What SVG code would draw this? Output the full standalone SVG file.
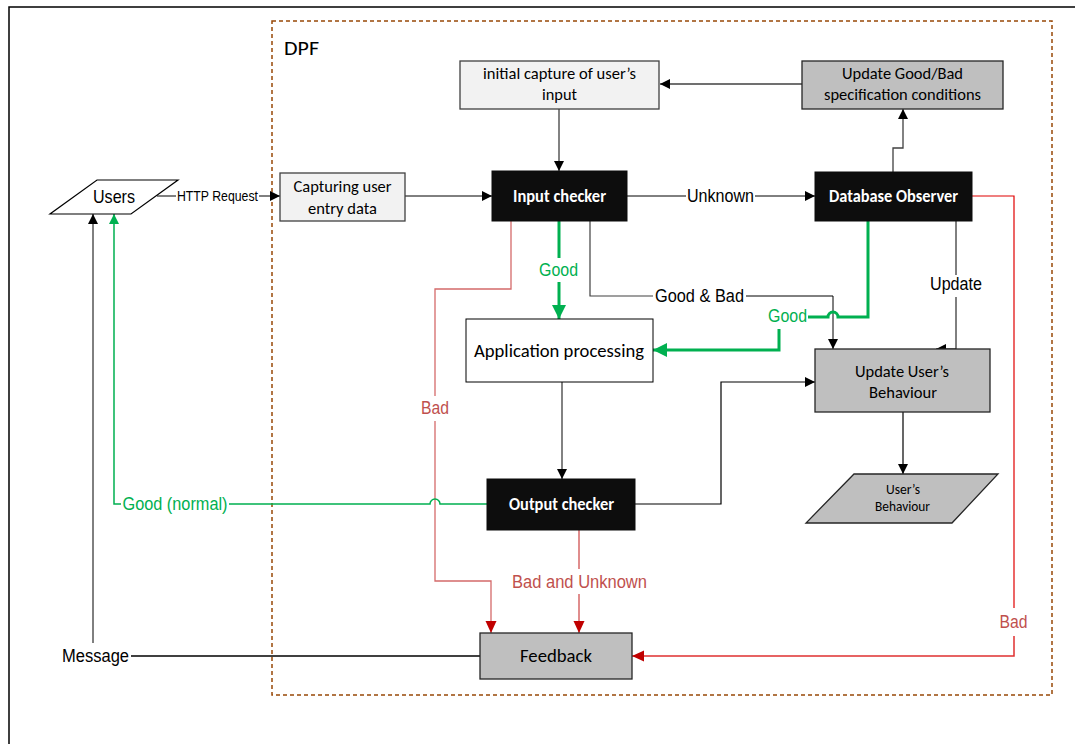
<svg xmlns="http://www.w3.org/2000/svg" width="1075" height="744" viewBox="0 0 1075 744">
<style>
.bx{font-family:Carlito,Lato,"Liberation Sans",sans-serif;font-size:17px;fill:#000;text-anchor:middle}
.wb{fill:#fff;font-weight:bold}
.lb{font-family:"Liberation Sans Narrow","Liberation Sans",Arial,sans-serif;font-size:17.5px;text-anchor:middle;fill:#000}
.gn{fill:#00b050}
.rd{fill:#c0504d}
.light{fill:#f2f2f2;stroke:#404040;stroke-width:1.3}
.grey{fill:#bfbfbf;stroke:#262626;stroke-width:1.3}
.dark{fill:#0d0d0d;stroke:#0d0d0d;stroke-width:1}
.c{fill:none}
</style>
<defs>
<marker id="ab" markerUnits="userSpaceOnUse" markerWidth="12" markerHeight="12" refX="10" refY="5" orient="auto"><path d="M0,0 L10,5 L0,10 z" fill="#000"/></marker>
<marker id="ag" markerUnits="userSpaceOnUse" markerWidth="16" markerHeight="16" refX="14" refY="7" orient="auto"><path d="M0,0 L14,7 L0,14 z" fill="#00b050"/></marker>
<marker id="agt" markerUnits="userSpaceOnUse" markerWidth="12" markerHeight="12" refX="10" refY="5" orient="auto"><path d="M0,0 L10,5 L0,10 z" fill="#00b050"/></marker>
<marker id="ar" markerUnits="userSpaceOnUse" markerWidth="14" markerHeight="14" refX="12" refY="5.5" orient="auto"><path d="M0,0 L12,5.5 L0,11 z" fill="#c00000"/></marker>
</defs>
<rect x="0" y="0" width="1075" height="744" fill="#fff"/>
<rect x="9" y="7" width="1100" height="800" fill="none" stroke="#000" stroke-width="1.5"/>
<g id="dpf">
<rect x="272" y="21" width="780" height="674" fill="none" stroke="#984807" stroke-width="1.5" stroke-dasharray="4,3"/>
<text x="284" y="55" class="bx" style="text-anchor:start;font-size:21px" textLength="35" lengthAdjust="spacingAndGlyphs">DPF</text>
</g>
<g id="connectors" class="c">
<path d="M157,196 H176" stroke="#000"/>
<path d="M259,196 H280" stroke="#000" marker-end="url(#ab)"/>
<path d="M405,196 H492" stroke="#000" marker-end="url(#ab)"/>
<path d="M627,196 H686" stroke="#000"/>
<path d="M755,196 H815" stroke="#000" marker-end="url(#ab)"/>
<path d="M559,109 V171" stroke="#595959" stroke-width="1.5" marker-end="url(#ab)"/>
<path d="M802,84 H660" stroke="#404040" stroke-width="1.3" marker-end="url(#ab)"/>
<path d="M893,172 V148 H903 V109" stroke="#404040" stroke-width="1.3" marker-end="url(#ab)"/>
<path d="M559,221 V258" stroke="#00b050" stroke-width="3"/>
<path d="M559,282 V319" stroke="#00b050" stroke-width="3" marker-end="url(#ag)"/>
<path d="M511,210 V289 H435 V396" stroke="#d46a6a" stroke-width="1.3"/>
<path d="M435,421 V581 H491 V633" stroke="#d46a6a" stroke-width="1.3" marker-end="url(#ar)"/>
<path d="M590,210 V296 H653" stroke="#404040" stroke-width="1.2"/>
<path d="M746,296 H833 V349" stroke="#000" stroke-width="1" marker-end="url(#ab)"/>
<path d="M868,221 V317 H838 a5,5 0 0 0 -10,0 H808" stroke="#00b050" stroke-width="3"/>
<path d="M779,329 V350 H653" stroke="#00b050" stroke-width="3" marker-end="url(#ag)"/>
<path d="M956,221 V275" stroke="#000"/>
<path d="M956,297 V349 H936" stroke="#000" marker-end="url(#ab)"/>
<path d="M548,369 H562 V479" stroke="#595959" stroke-width="1.5" marker-end="url(#ab)"/>
<path d="M635,504 H721 V382 H815" stroke="#000" stroke-width="1.2" marker-end="url(#ab)"/>
<path d="M903,412 V474" stroke="#000" stroke-width="1.2" marker-end="url(#ab)"/>
<path d="M579,530 V569" stroke="#d05050" stroke-width="1.3"/>
<path d="M579,594 V633" stroke="#d05050" stroke-width="1.3" marker-end="url(#ar)"/>
<path d="M972,196 H1014 V608" stroke="#e00000" stroke-width="1.2"/>
<path d="M1014,636 V656 H632" stroke="#e03030" stroke-width="1.5" marker-end="url(#ar)"/>
<path d="M480,656 H131" stroke="#404040" stroke-width="2"/>
<path d="M93,643 V214" stroke="#000" marker-end="url(#ab)"/>
<path d="M487,504 H440 a5,5 0 0 0 -10,0 H229" stroke="#00b050" stroke-width="1.5"/>
<path d="M121,504 H114 V214" stroke="#00b050" stroke-width="1.5" marker-end="url(#agt)"/>
</g>
<g id="labels">
<text x="217.5" y="201" class="lb" style="font-size:14px" textLength="81" lengthAdjust="spacingAndGlyphs">HTTP Request</text>
<text x="720.5" y="202" class="lb" textLength="67" lengthAdjust="spacingAndGlyphs">Unknown</text>
<text x="558.5" y="276" class="lb gn" textLength="39" lengthAdjust="spacingAndGlyphs">Good</text>
<text x="699.5" y="302" class="lb" textLength="89" lengthAdjust="spacingAndGlyphs">Good &amp; Bad</text>
<text x="787.5" y="322" class="lb gn" textLength="39" lengthAdjust="spacingAndGlyphs">Good</text>
<text x="956" y="290" class="lb" textLength="52" lengthAdjust="spacingAndGlyphs">Update</text>
<text x="435" y="414" class="lb rd" textLength="28" lengthAdjust="spacingAndGlyphs">Bad</text>
<text x="175" y="510" class="lb gn" textLength="105" lengthAdjust="spacingAndGlyphs">Good (normal)</text>
<text x="579.5" y="588" class="lb rd" textLength="135" lengthAdjust="spacingAndGlyphs">Bad and Unknown</text>
<text x="1013.5" y="628" class="lb rd" textLength="28" lengthAdjust="spacingAndGlyphs">Bad</text>
<text x="95.5" y="662" class="lb" textLength="67" lengthAdjust="spacingAndGlyphs">Message</text>
</g>
<g id="users">
<polygon points="97,180 178,180 131,214 50,214" fill="#fff" stroke="#000" stroke-width="1.2"/>
<text x="114" y="203" class="lb" style="font-size:18.5px" textLength="42" lengthAdjust="spacingAndGlyphs">Users</text>
</g>
<g id="capturing">
<rect x="280" y="173" width="125" height="48" class="light"/>
<text x="342.5" y="192" class="bx" textLength="98" lengthAdjust="spacingAndGlyphs">Capturing user</text>
<text x="342.5" y="214" class="bx" textLength="69" lengthAdjust="spacingAndGlyphs">entry data</text>
</g>
<g id="initial-capture">
<rect x="460" y="61" width="199" height="48" class="light"/>
<text x="559.5" y="79" class="bx" textLength="153" lengthAdjust="spacingAndGlyphs">initial capture of user’s</text>
<text x="559.5" y="100" class="bx" textLength="35" lengthAdjust="spacingAndGlyphs">input</text>
</g>
<g id="update-spec">
<rect x="802" y="61" width="201" height="48" class="grey"/>
<text x="902.5" y="79" class="bx" textLength="121" lengthAdjust="spacingAndGlyphs">Update Good/Bad</text>
<text x="902.5" y="100" class="bx" textLength="157" lengthAdjust="spacingAndGlyphs">specification conditions</text>
</g>
<g id="input-checker">
<rect x="492" y="171" width="135" height="50" class="dark"/>
<text x="559.5" y="202" class="bx wb" textLength="93" lengthAdjust="spacingAndGlyphs">Input checker</text>
</g>
<g id="database-observer">
<rect x="815" y="172" width="157" height="49" class="dark"/>
<text x="893.5" y="202" class="bx wb" textLength="129" lengthAdjust="spacingAndGlyphs">Database Observer</text>
</g>
<g id="application-processing">
<rect x="466" y="319" width="187" height="63" fill="#fff" stroke="#000" stroke-width="1"/>
<text x="559" y="357" class="bx" style="font-size:18px" textLength="170" lengthAdjust="spacingAndGlyphs">Application processing</text>
</g>
<g id="update-behaviour">
<rect x="815" y="349" width="175" height="63" class="grey"/>
<text x="902" y="377" class="bx" textLength="94" lengthAdjust="spacingAndGlyphs">Update User’s</text>
<text x="903" y="398" class="bx" textLength="68" lengthAdjust="spacingAndGlyphs">Behaviour</text>
</g>
<g id="output-checker">
<rect x="487" y="479" width="148" height="51" class="dark"/>
<text x="561.5" y="510" class="bx wb" textLength="105" lengthAdjust="spacingAndGlyphs">Output checker</text>
</g>
<g id="users-behaviour">
<polygon points="854,474 998,474 952,523 806,523" class="grey"/>
<text x="903" y="494" class="bx" style="font-size:13.5px" textLength="34" lengthAdjust="spacingAndGlyphs">User’s</text>
<text x="902.5" y="511" class="bx" style="font-size:13.5px" textLength="55" lengthAdjust="spacingAndGlyphs">Behaviour</text>
</g>
<g id="feedback">
<rect x="480" y="633" width="152" height="46" class="grey"/>
<text x="556" y="662" class="bx" style="font-size:18.5px" textLength="72" lengthAdjust="spacingAndGlyphs">Feedback</text>
</g>
</svg>
